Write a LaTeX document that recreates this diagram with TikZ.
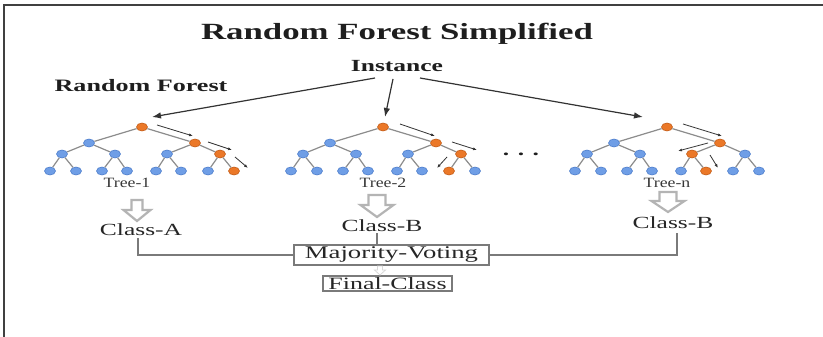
\documentclass[tikz,border=0pt]{standalone}
\usepackage{fontspec}
\setmainfont{Liberation Serif}[FakeStretch=1.5]
\newfontfamily\treefont{Liberation Serif}[FakeStretch=1.25]
\usetikzlibrary{arrows.meta,calc,shapes.geometric}
\definecolor{bluc}{HTML}{6F9EE6}
\definecolor{blud}{HTML}{4F7FCC}
\definecolor{orgc}{HTML}{EB7828}
\definecolor{orgd}{HTML}{C45E1A}
\definecolor{edgec}{HTML}{8C8C8C}
\definecolor{txtc}{HTML}{1E1E1E}
\definecolor{linec}{HTML}{7A7A7A}
\definecolor{hollowc}{HTML}{B4B4B4}
\newcommand\rftree[5]{%
\begin{scope}[shift={(#2,127)}]
 \node[tn,fill=orgc,draw=orgd] (#1r) at (0,0) {};
 \foreach \i/\dx in {1/-53,2/53}{%
   \ifnum\i=#3\relax\def\fc{orgc}\def\dc{orgd}\else\def\fc{bluc}\def\dc{blud}\fi
   \node[tn,fill=\fc,draw=\dc] (#1a\i) at (\dx,16) {};}
 \foreach \i/\dx in {1/-80,2/-27,3/25,4/78}{%
   \ifnum\i=#4\relax\def\fc{orgc}\def\dc{orgd}\else\def\fc{bluc}\def\dc{blud}\fi
   \node[tn,fill=\fc,draw=\dc] (#1b\i) at (\dx,27) {};}
 \foreach \i/\dx in {1/-92,2/-66,3/-40,4/-15,5/14,6/39,7/66,8/92}{%
   \ifnum\i=#5\relax\def\fc{orgc}\def\dc{orgd}\else\def\fc{bluc}\def\dc{blud}\fi
   \node[tn,fill=\fc,draw=\dc] (#1c\i) at (\dx,44) {};}
 \draw[tedge] (#1r)--(#1a1) (#1r)--(#1a2)
   (#1a1)--(#1b1) (#1a1)--(#1b2) (#1a2)--(#1b3) (#1a2)--(#1b4)
   (#1b1)--(#1c1) (#1b1)--(#1c2) (#1b2)--(#1c3) (#1b2)--(#1c4)
   (#1b3)--(#1c5) (#1b3)--(#1c6) (#1b4)--(#1c7) (#1b4)--(#1c8);
\end{scope}}
\begin{document}
\begin{tikzpicture}[x=1pt,y=-1pt,
  tn/.style={ellipse,minimum width=11pt,minimum height=8pt,inner sep=0pt,line width=0.6pt},
  tedge/.style={draw=edgec,line width=1.2pt},
  parr/.style={draw=black!80,line width=0.8pt,-{Latex[length=4pt,width=3pt]}},
  iarr/.style={draw=black!80,line width=1.2pt,-{Latex[length=9pt,width=6.5pt]}},
  conn/.style={draw=linec,line width=1.2pt},
  lbl/.style={inner sep=0pt,anchor=base,text=txtc},
  treel/.style={lbl,font=\treefont\fontsize{14.2}{16}\selectfont,text=black!78},
  classl/.style={lbl,font=\fontsize{17}{19}\selectfont,text=black!85},
  boxn/.style={draw=linec,line width=1.2pt,inner sep=0pt,text=black!85,
     font=\fontsize{17.8}{20}\selectfont},
  hollow/.style={draw=hollowc,fill=white,line width=2.2pt,line join=miter}]
\useasboundingbox (0,0) rectangle (823,337);
\fill[white] (0,0) rectangle (823,337);
% frame
\draw[draw=black!75,line width=2pt] (4,337) -- (4,5) -- (823,5);
% titles
\node[lbl,font=\fontsize{23.2}{26}\selectfont\bfseries] (title) at (397,40) {Random Forest Simplified};
\node[lbl,font=\fontsize{17}{20}\selectfont\bfseries] (inst) at (397,72) {Instance};
\node[lbl,font=\fontsize{17.4}{20}\selectfont\bfseries] (rf) at (141,92) {Random Forest};
% trees
\rftree{t1}{142}{2}{4}{8}
\rftree{t2}{383}{2}{4}{7}
\rftree{tn}{667}{2}{3}{6}
% instance arrows
\draw[iarr] ($(inst.base)+(-22,6)$) -- ($(t1r)+(10,-10)$);
\draw[iarr] ($(inst.base)+(-4,7)$) -- ($(t2r)+(2,-10)$);
\draw[iarr] ($(inst.base)+(23,6)$) -- ($(tnr)+(-24,-10)$);
% path arrows
\draw[parr] ($(t1r)+(15,-2)$) -- ($(t1r)+(51,9)$);
\draw[parr] ($(t1r)+(66,15)$) -- ($(t1r)+(90,23)$);
\draw[parr] ($(t1r)+(93,30)$) -- ($(t1r)+(106,41)$);
\draw[parr] ($(t2r)+(17,-3)$) -- ($(t2r)+(52,9)$);
\draw[parr] ($(t2r)+(69,15)$) -- ($(t2r)+(94,23)$);
\draw[parr] ($(t2r)+(64,30)$) -- ($(t2r)+(54,41)$);
\draw[parr] ($(tnr)+(16,-3)$) -- ($(tnr)+(55,9)$);
\draw[parr] ($(tnr)+(41,16)$) -- ($(tnr)+(11,24)$);
\draw[parr] ($(tnr)+(43,28)$) -- ($(tnr)+(51,41)$);
% ellipsis
\node[lbl,font=\fontsize{17}{20}\selectfont\bfseries] (dots) at (521,155.5) {. . .};
% tree labels
\node[treel] (l1) at (127,187) {Tree-1};
\node[treel] (l2) at (383,187) {Tree-2};
\node[treel] (ln) at (667,187) {Tree-n};
% hollow arrows
\draw[hollow] (131.5,200) -- (142.5,200) -- (142.5,210) -- (150.5,210) -- (137,221) -- (123.5,210) -- (131.5,210) -- cycle;
\draw[hollow] (368.5,195) -- (385.5,195) -- (385.5,205) -- (393.5,205) -- (377,217) -- (360.5,205) -- (368.5,205) -- cycle;
\draw[hollow] (659.5,192) -- (676.5,192) -- (676.5,201) -- (684.5,201) -- (668,212) -- (651.5,201) -- (659.5,201) -- cycle;
% class labels
\node[classl] (ca) at (141,235) {Class-A};
\node[classl] (cb) at (382,231) {Class-B};
\node[classl] (cn) at (673,228) {Class-B};
% voting boxes
\node[boxn,minimum width=195pt,minimum height=20pt] (mv) at (391.5,255) {Majority-Voting};
\node[boxn,minimum width=129pt,minimum height=15pt,font=\fontsize{17.3}{19}\selectfont] (fc) at (387.5,283.5) {Final-Class};
% connectors
\draw[conn] ([xshift=-3pt,yshift=-3pt]ca.base) |- (mv.west);
\draw[conn] ([xshift=-5pt,yshift=-2pt]cb.base) -- ([xshift=-5pt]cb.base |- mv.north);
\draw[conn] (mv.east) -| ([xshift=4pt,yshift=-5pt]cn.base);
\draw[draw=black!15,fill=white,line width=0.8pt] (377.5,266) -- (382.5,266) -- (382.5,270) -- (385.5,270) -- (380,275) -- (374.5,270) -- (377.5,270) -- cycle;
\end{tikzpicture}
\end{document}
